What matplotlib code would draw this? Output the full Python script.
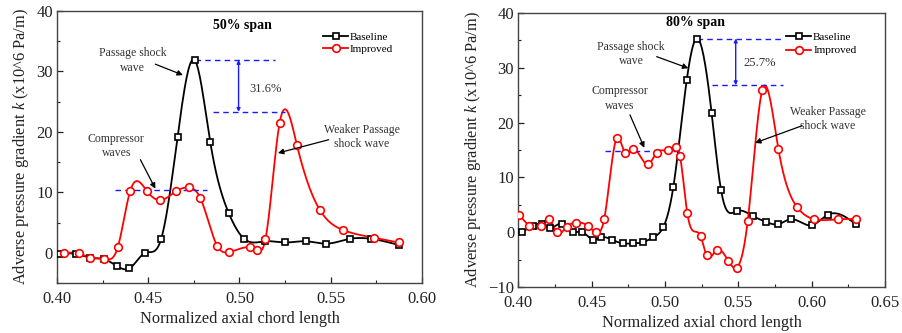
import numpy as np
import matplotlib
matplotlib.use('Agg')
import matplotlib.pyplot as plt
from matplotlib.ticker import MultipleLocator

plt.rcParams['font.family'] = ['Liberation Serif', 'DejaVu Serif']
plt.rcParams['mathtext.fontset'] = 'custom'
plt.rcParams['mathtext.it'] = 'Liberation Serif:italic'
plt.rcParams['mathtext.rm'] = 'Liberation Serif'

# ---- 50% span data ----
x50_base = [0.4015, 0.4106, 0.418, 0.426, 0.4329, 0.4396, 0.4484, 0.457, 0.4661,
            0.4754, 0.484, 0.4942, 0.5026, 0.5142, 0.5251, 0.5366, 0.5476, 0.5604,
            0.5722, 0.5872]
y50_base = [-0.2, -0.2, -0.8, -1.1, -2.2, -2.6, 0.0, 2.2, 19.2,
            31.9, 18.3, 6.5, 2.3, 1.9, 1.7, 1.9, 1.5, 2.3,
            2.3, 1.3]
x50_imp = [0.4037, 0.412, 0.418, 0.426, 0.4334, 0.4402, 0.4493, 0.4563, 0.4654,
           0.4722, 0.4785, 0.4877, 0.4942, 0.5056, 0.5094, 0.5142, 0.522, 0.5315,
           0.544, 0.5565, 0.5735, 0.5872]
y50_imp = [-0.1, -0.1, -0.8, -1.0, 1.0, 10.3, 10.2, 8.7, 10.2,
           10.8, 9.1, 1.2, 0.1, 0.9, 0.5, 2.2, 21.5, 17.8,
           7.1, 3.8, 2.5, 1.7]

# ---- 80% span data ----
x80_base = [0.4027, 0.4098, 0.4164, 0.4216, 0.4295, 0.437, 0.4432, 0.4511, 0.4564,
            0.4636, 0.4711, 0.478, 0.4848, 0.492, 0.4989, 0.5057, 0.5148, 0.5216,
            0.5318, 0.5382, 0.5489, 0.5598, 0.5689, 0.5773, 0.5857, 0.60, 0.6109,
            0.63]
y80_base = [0.1, 1.2, 1.5, 0.8, 1.6, 0.1, 0.1, -1.3, -0.9,
            -1.3, -2.0, -2.0, -1.8, -0.9, 1.0, 8.3, 27.7, 35.3,
            21.7, 7.7, 3.9, 3.0, 1.9, 1.5, 2.4, 1.3, 3.2,
            1.5]
x80_imp = [0.4007, 0.4075, 0.4155, 0.4211, 0.4261, 0.433, 0.4393, 0.4473, 0.453,
           0.4586, 0.467, 0.4727, 0.4784, 0.4886, 0.4943, 0.5023, 0.5073, 0.5102,
           0.5152, 0.5243, 0.5284, 0.5352, 0.5432, 0.5489, 0.5564, 0.5664, 0.5773,
           0.5898, 0.6018, 0.6182, 0.63]
y80_imp = [3.2, 1.2, 1.2, 2.4, 0.0, 1.0, 1.8, 1.2, 0.0,
           2.5, 17.1, 14.5, 15.1, 12.4, 14.5, 15.0, 15.6, 13.9,
           3.5, -0.7, -4.2, -3.2, -5.2, -6.4, 2.1, 26.0, 15.2,
           4.7, 2.4, 2.4, 2.4]


def spline_line(x, y, n=400):
    # natural cubic spline just for drawing the smooth connecting line
    x = np.asarray(x, float)
    y = np.asarray(y, float)
    m = len(x)
    h = np.diff(x)
    A = np.zeros((m, m))
    b = np.zeros(m)
    A[0, 0] = 1
    A[-1, -1] = 1
    for i in range(1, m - 1):
        A[i, i - 1] = h[i - 1]
        A[i, i] = 2 * (h[i - 1] + h[i])
        A[i, i + 1] = h[i]
        b[i] = 6 * ((y[i + 1] - y[i]) / h[i] - (y[i] - y[i - 1]) / h[i - 1])
    M = np.linalg.solve(A, b)
    xs = np.linspace(x[0], x[-1], n)
    idx = np.clip(np.searchsorted(x, xs) - 1, 0, m - 2)
    x0, x1 = x[idx], x[idx + 1]
    hh = x1 - x0
    t0 = x1 - xs
    t1 = xs - x0
    ys = (M[idx] * t0 ** 3 + M[idx + 1] * t1 ** 3) / (6 * hh) \
        + (y[idx] / hh - M[idx] * hh / 6) * t0 + (y[idx + 1] / hh - M[idx + 1] * hh / 6) * t1
    return xs, ys


def draw_series(ax, x, y, color, marker, ms, label):
    xs, ys = spline_line(x, y)
    ax.plot(xs, ys, color=color, lw=1.3, zorder=2)
    ax.plot(x, y, linestyle='none', marker=marker, ms=ms, mfc='white', mec=color,
            mew=1.2, zorder=3)
    ax.plot([], [], color=color, lw=1.3, marker=marker, ms=ms, mfc='white', mec=color,
            mew=1.2, label=label)


def style_axes(ax, xmaj, ymaj):
    ax.xaxis.set_major_locator(MultipleLocator(xmaj))
    ax.xaxis.set_minor_locator(MultipleLocator(xmaj / 2))
    ax.yaxis.set_major_locator(MultipleLocator(ymaj))
    ax.yaxis.set_minor_locator(MultipleLocator(ymaj / 2))
    ax.tick_params(which='both', direction='in', top=False, right=False,
                   labelsize=12, colors='#222222')
    ax.tick_params(which='major', length=4, width=0.9, pad=3)
    ax.tick_params(axis='x', which='major', pad=5.5)
    ax.tick_params(which='minor', length=2.5, width=0.8)
    for s in ax.spines.values():
        s.set_color('#444444')
        s.set_linewidth(1.0)
    ax.set_xlabel('Normalized axial chord length', fontsize=11.8, labelpad=3, color='#222222')
    ax.set_ylabel('Adverse pressure gradient $\\it{k}$ (x10^6 Pa/m)', fontsize=11.8,
                  labelpad=4, color='#222222')


def note(ax, text, xy_text, xy_arrow=None, xy_tail=None):
    ax.text(xy_text[0], xy_text[1], text, ha='center', va='center', fontsize=8.5,
            color='#333333', linespacing=1.25)
    if xy_arrow is not None:
        ax.annotate('', xy=xy_arrow, xytext=xy_tail,
                    arrowprops=dict(arrowstyle='-|>', color='black', lw=0.9,
                                    mutation_scale=8, shrinkA=0, shrinkB=0))


blue = '#1a1aff'
fig = plt.figure(figsize=(9.03, 3.33), dpi=100)

# ---------- left: 50% span ----------
ax1 = fig.add_axes([0.0631, 0.1502, 0.4042, 0.8168])
draw_series(ax1, x50_base, y50_base, 'black', 's', 5, 'Baseline')
draw_series(ax1, x50_imp, y50_imp, 'red', 'o', 5.5, 'Improved')
ax1.set_xlim(0.40, 0.60)
ax1.set_ylim(-5, 40)
style_axes(ax1, 0.05, 10)
ax1.set_xticks([0.40, 0.45, 0.50, 0.55, 0.60])
ax1.set_xticklabels(['0.40', '0.45', '0.50', '0.55', '0.60'])
ax1.text(0.5017, 37.6, '50% span', ha='center', va='center', fontsize=10, fontweight='bold')
ax1.plot([0.4754, 0.5196], [31.9, 31.9], color=blue, ls=(0, (4, 3)), lw=1)
ax1.plot([0.4853, 0.5251], [23.3, 23.3], color=blue, ls=(0, (4, 3)), lw=1)
ax1.annotate('', xy=(0.4995, 31.9), xytext=(0.4995, 23.3),
             arrowprops=dict(arrowstyle='<|-|>', color=blue, lw=1, mutation_scale=5,
                             shrinkA=0, shrinkB=0))
ax1.text(0.5142, 27.1, '31.6%', ha='center', va='center', fontsize=9, color='#333333')
ax1.plot([0.4316, 0.4822], [10.4, 10.4], color=blue, ls=(0, (4, 3)), lw=1)
note(ax1, 'Compressor\nwaves', (0.4325, 17.7), (0.4539, 10.6), (0.4457, 15.4))
note(ax1, 'Passage shock\nwave', (0.4415, 31.8), (0.469, 29.4), (0.4539, 31.2))
note(ax1, 'Weaker Passage\nshock wave', (0.5671, 19.1), (0.5211, 16.5), (0.5489, 18.7))
ax1.legend(loc='upper left', bbox_to_anchor=(0.717, 0.94), frameon=False, fontsize=8,
           handlelength=2.25, handletextpad=0.15, labelspacing=0.25, borderaxespad=0)

# ---------- right: 80% span ----------
ax2 = fig.add_axes([0.574, 0.1372, 0.4061, 0.8246])
draw_series(ax2, x80_base, y80_base, 'black', 's', 5, 'Baseline')
draw_series(ax2, x80_imp, y80_imp, 'red', 'o', 5.5, 'Improved')
ax2.set_xlim(0.40, 0.65)
ax2.set_ylim(-10, 40)
style_axes(ax2, 0.05, 10)
ax2.set_xticks([0.40, 0.45, 0.50, 0.55, 0.60, 0.65])
ax2.set_xticklabels(['0.40', '0.45', '0.50', '0.55', '0.60', '0.65'])
ax2.set_yticks([-10, 0, 10, 20, 30, 40])
ax2.set_yticklabels(['\u221210', '0', '10', '20', '30', '40'])
ax2.text(0.5209, 38.3, '80% span', ha='center', va='center', fontsize=10, fontweight='bold')
ax2.plot([0.5216, 0.5807], [35.3, 35.3], color=blue, ls=(0, (4, 3)), lw=1)
ax2.plot([0.5318, 0.5807], [26.8, 26.8], color=blue, ls=(0, (4, 3)), lw=1)
ax2.annotate('', xy=(0.5482, 35.3), xytext=(0.5482, 26.8),
             arrowprops=dict(arrowstyle='<|-|>', color=blue, lw=1, mutation_scale=5,
                             shrinkA=0, shrinkB=0))
ax2.text(0.5643, 30.8, '25.7%', ha='center', va='center', fontsize=9, color='#333333')
ax2.plot([0.4591, 0.5125], [14.8, 14.8], color=blue, ls=(0, (4, 3)), lw=1)
note(ax2, 'Compressor\nwaves', (0.4693, 24.4), (0.4859, 15.4), (0.4761, 21.4))
note(ax2, 'Passage shock\nwave', (0.4768, 32.5), (0.5159, 29.9), (0.4943, 32.0))
note(ax2, 'Weaker Passage\nshock wave', (0.6109, 20.7), (0.5614, 16.3), (0.5932, 19.4))
ax2.legend(loc='upper left', bbox_to_anchor=(0.719, 0.944), frameon=False, fontsize=8,
           handlelength=2.25, handletextpad=0.15, labelspacing=0.3, borderaxespad=0)

fig.savefig('out.png', dpi=100)
